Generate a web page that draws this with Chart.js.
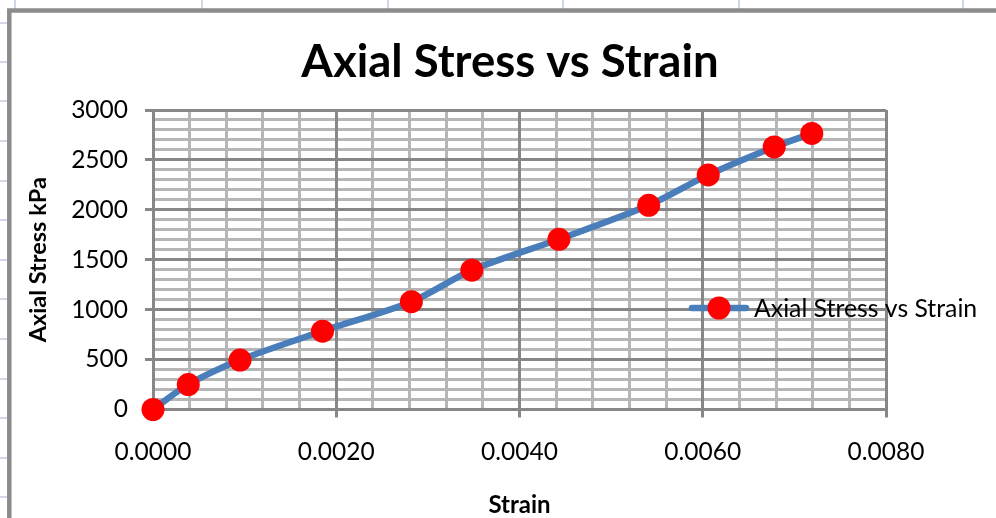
<!DOCTYPE html>
<html>
<head>
<meta charset="utf-8">
<script src="https://cdn.jsdelivr.net/npm/chart.js@4.4.1/dist/chart.umd.min.js"></script>
<style>
  html, body { margin: 0; padding: 0; background: #fff; overflow: hidden; }
  #wrap { position: absolute; left: 0; top: 0; width: 996px; height: 540px; }
</style>
</head>
<body>
<div id="wrap"><canvas id="c" width="996" height="540"></canvas></div>
<script>
// Measured strain (-) and axial stress (kPa)
const strain = [0, 0.000385, 0.00095, 0.00185, 0.00282, 0.00348, 0.00443, 0.00541, 0.00606, 0.00678, 0.00719];
const stress = [0, 250, 495, 785, 1080, 1395, 1705, 2045, 2350, 2630, 2765];

// Axis ticks
const strainTicks = [0, 0.002, 0.004, 0.006, 0.008];
const strainTickLabels = ['0.0000', '0.0020', '0.0040', '0.0060', '0.0080'];
const stressTicks = [0, 500, 1000, 1500, 2000, 2500, 3000];
const stressTickLabels = ['0', '500', '1000', '1500', '2000', '2500', '3000'];
const strainMinorDivisions = 20;   // every 0.0004
const stressMinorDivisions = 30;   // every 100 kPa

const chartTitle = 'Axial Stress vs Strain';
const seriesName = 'Axial Stress vs Strain';
const xTitle = 'Strain';
const yTitle = 'Axial Stress kPa';

const strainMax = strainTicks[strainTicks.length - 1];
const stressMax = stressTicks[stressTicks.length - 1];
const strainMinor = Array.from({ length: strainMinorDivisions + 1 }, (_, i) => i * strainMax / strainMinorDivisions);
const stressMinor = Array.from({ length: stressMinorDivisions + 1 }, (_, i) => i * stressMax / stressMinorDivisions);

const LINE = '#4a7ebb';
const MARK = '#ff0000';
const MAJOR = '#878787';
const MINOR = '#b6b6b6';
const FONT = 'Lato';

// worksheet cells behind the chart object
const sheetRows = [23, 62, 101, 141, 181, 220, 260, 299, 339, 379, 418, 458, 497, 537];
const sheetCols = [15, 202, 388, 563, 739, 963];

const sheetPlugin = {
  id: 'sheet',
  beforeDraw(chart) {
    const ctx = chart.ctx;
    ctx.save();
    ctx.fillStyle = '#fff';
    ctx.fillRect(0, 0, chart.width, chart.height);
    ctx.strokeStyle = '#d0d7e5';
    ctx.lineWidth = 2;
    sheetRows.forEach(y => { ctx.beginPath(); ctx.moveTo(0, y); ctx.lineTo(8, y); ctx.stroke(); });
    sheetCols.forEach(x => { ctx.beginPath(); ctx.moveTo(x, 0); ctx.lineTo(x, 9); ctx.stroke(); });
    ctx.strokeStyle = '#8c8c8c';
    ctx.lineWidth = 4.5;
    ctx.lineJoin = 'miter';
    ctx.beginPath();
    ctx.moveTo(9.3, chart.height + 10);
    ctx.lineTo(9.3, 10.5);
    ctx.lineTo(chart.width + 10, 10.5);
    ctx.stroke();
    ctx.restore();
  }
};

const titleLegendPlugin = {
  id: 'titleLegend',
  afterDraw(chart) {
    const ctx = chart.ctx;
    const ds = chart.data.datasets[0];
    ctx.save();
    // chart title
    ctx.fillStyle = '#000';
    ctx.font = `bold 45.5px ${FONT}`;
    ctx.textAlign = 'center';
    ctx.textBaseline = 'alphabetic';
    ctx.fillText(chartTitle, 510, 77);
    // legend entry
    const ly = 308;
    ctx.strokeStyle = ds.borderColor;
    ctx.lineWidth = ds.borderWidth;
    ctx.lineCap = 'round';
    ctx.beginPath();
    ctx.moveTo(692, ly);
    ctx.lineTo(746, ly);
    ctx.stroke();
    ctx.fillStyle = ds.pointBackgroundColor;
    ctx.beginPath();
    ctx.arc(719, ly, ds.pointRadius, 0, Math.PI * 2);
    ctx.fill();
    ctx.fillStyle = '#000';
    ctx.font = `24.8px ${FONT}`;
    ctx.textAlign = 'left';
    ctx.fillText(ds.label, 754, 316.5);
    ctx.restore();
  }
};

const minorScale = (axis, position, values, max) => ({
  type: 'linear', axis, position, min: 0, max,
  afterBuildTicks: s => { s.ticks = values.map(v => ({ value: v })); },
  afterFit: s => { if (axis === 'x') s.height = 0; else s.width = 0; },
  ticks: { display: false },
  border: { display: false },
  grid: { color: MINOR, lineWidth: 3, drawTicks: false, z: -2 }
});

new Chart(document.getElementById('c'), {
  type: 'line',
  data: {
    datasets: [{
      label: seriesName,
      data: strain.map((x, i) => ({ x, y: stress[i] })),
      borderColor: LINE,
      borderWidth: 6.5,
      tension: 0.3,
      pointRadius: 11.5,
      pointHoverRadius: 11.5,
      pointBackgroundColor: MARK,
      pointBorderColor: MARK,
      pointBorderWidth: 0,
      clip: false,
      xAxisID: 'x',
      yAxisID: 'y'
    }]
  },
  options: {
    responsive: false,
    animation: false,
    events: [],
    devicePixelRatio: 1,
    layout: { padding: { left: 20, top: 110, right: 110, bottom: 20.5 } },
    plugins: {
      legend: { display: false },
      title: { display: false },
      tooltip: { enabled: false }
    },
    scales: {
      xMinor: minorScale('x', 'bottom', strainMinor, strainMax),
      yMinor: minorScale('y', 'left', stressMinor, stressMax),
      x: {
        type: 'linear', position: 'bottom', min: 0, max: strainMax,
        afterBuildTicks: s => { s.ticks = strainTicks.map(v => ({ value: v })); },
        afterFit: s => { s.height = 110; },
        ticks: {
          callback: (v, i) => strainTickLabels[i],
          color: '#000', font: { family: FONT, size: 24.5 }, padding: 20,
          autoSkip: false, maxRotation: 0
        },
        grid: { color: MAJOR, lineWidth: 3, tickLength: 8, tickColor: MAJOR, tickWidth: 3, z: -1 },
        border: { color: MAJOR, width: 3 },
        title: { display: true, text: xTitle, color: '#000', font: { family: FONT, size: 24, weight: 'bold' }, padding: { top: 0, bottom: 0 } }
      },
      y: {
        type: 'linear', position: 'left', min: 0, max: stressMax,
        afterBuildTicks: s => { s.ticks = stressTicks.map(v => ({ value: v })); },
        afterFit: s => { s.width = 133; },
        ticks: {
          callback: (v, i) => stressTickLabels[i],
          color: '#000', font: { family: FONT, size: 24.5 }, padding: 17, autoSkip: false
        },
        grid: { color: MAJOR, lineWidth: 3, tickLength: 8, tickColor: MAJOR, tickWidth: 3, z: -1 },
        border: { color: MAJOR, width: 3 },
        title: { display: true, text: yTitle, color: '#000', font: { family: FONT, size: 23.5, weight: 'bold' }, padding: { top: 4, bottom: 4 } }
      }
    }
  },
  plugins: [sheetPlugin, titleLegendPlugin]
});
</script>
</body>
</html>
